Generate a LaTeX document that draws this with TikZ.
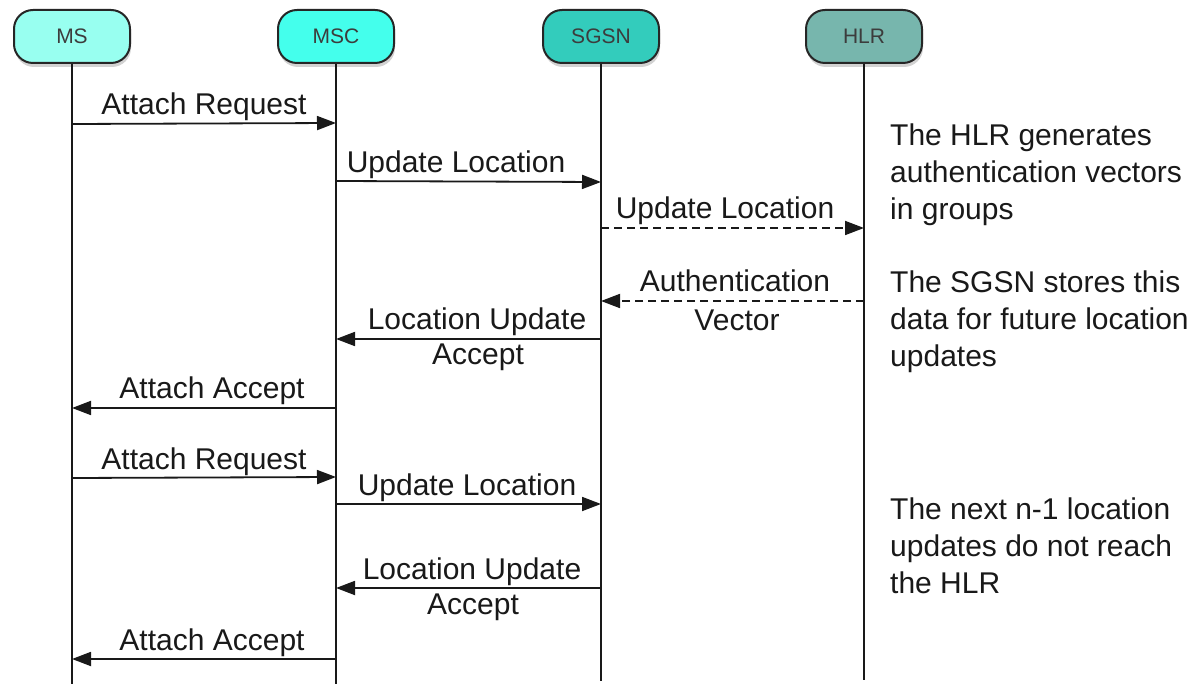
\documentclass[tikz,border=0pt]{standalone}
\usepackage{fontspec}
\setmainfont{Liberation Sans}
\usetikzlibrary{shadows,arrows.meta}
\definecolor{cMS}{RGB}{152,255,240}
\definecolor{cMSC}{RGB}{68,255,236}
\definecolor{cSGSN}{RGB}{51,204,188}
\definecolor{cHLR}{RGB}{119,182,173}
\definecolor{boxtext}{RGB}{60,60,60}
\tikzset{
  entity/.style={draw=black!85, line width=2pt, rounded corners=19pt,
    minimum width=116pt, minimum height=53pt, inner sep=0pt,
    font=\fontsize{21}{25}\selectfont, text=boxtext,
    drop shadow={opacity=0.35, shadow xshift=1pt, shadow yshift=-4pt}},
  life/.style={line width=1.6pt, black!90},
  msg/.style={line width=1.8pt, black!90, -{Triangle[length=19pt,width=14pt]}},
  dmsg/.style={msg, dash pattern=on 8pt off 5pt},
  lbl/.style={anchor=base, inner sep=0pt, font=\fontsize{30}{36}\selectfont, text=black!90},
  note/.style={anchor=base west, inner sep=0pt, align=left, font=\fontsize{30}{37}\selectfont, text=black!90}
}
\begin{document}
\begin{tikzpicture}[x=1pt,y=-1pt]
\useasboundingbox[fill=white] (0,0) rectangle (1197,684);
% entities
\node[entity, fill=cMS]   (ms)   at (72,36.5)  {MS};
\node[entity, fill=cMSC]  (msc)  at (336,36.5) {MSC};
\node[entity, fill=cSGSN] (sgsn) at (601,36.5) {SGSN};
\node[entity, fill=cHLR]  (hlr)  at (864,36.5) {HLR};
% lifelines
\coordinate (msE)   at (72,684);
\coordinate (mscE)  at (336,684);
\coordinate (sgsnE) at (601,681);
\coordinate (hlrE)  at (864,680);
\draw[life] (ms.south) -- (msE);
\draw[life] (msc.south) -- (mscE);
\draw[life] (sgsn.south) -- (sgsnE);
\draw[life] (hlr.south) -- (hlrE);
% messages
\draw[msg]  (ms |- 0,124)  -- (msc |- 0,123);
\node[lbl] (l1) at (204,115) {Attach Request};
\draw[msg]  (msc |- 0,181) -- (sgsn |- 0,182);
\node[lbl] (l2) at (456,173) {Update Location};
\draw[dmsg] (sgsn |- 0,228) -- (hlr |- 0,228);
\node[lbl] (l3) at (725,219) {Update Location};
\draw[dmsg] (hlr |- 0,301) -- (sgsn |- 0,301);
\node[lbl] (l4a) at (735,292) {Authentication};
\node[lbl] (l4b) at (737,331) {Vector};
\draw[msg]  (sgsn |- 0,339) -- (msc |- 0,339);
\node[lbl] (l5a) at (477,330) {Location Update};
\node[lbl] (l5b) at (478,365) {Accept};
\draw[msg]  (msc |- 0,408) -- (ms |- 0,408);
\node[lbl] (l6) at (212,399) {Attach Accept};
\draw[msg]  (ms |- 0,478)  -- (msc |- 0,477);
\node[lbl] (l7) at (204,469) {Attach Request};
\draw[msg]  (msc |- 0,504) -- (sgsn |- 0,504);
\node[lbl] (l8) at (467,495) {Update Location};
\draw[msg]  (sgsn |- 0,588) -- (msc |- 0,588);
\node[lbl] (l9a) at (472,579) {Location Update};
\node[lbl] (l9b) at (473,614) {Accept};
\draw[msg]  (msc |- 0,659) -- (ms |- 0,659);
\node[lbl] (l10) at (212,650) {Attach Accept};
% notes (base anchor = last line)
\node[note] (n1) at (890,220) {The HLR generates\\authentication vectors\\in groups};
\node[note] (n2) at (890,367) {The SGSN stores this\\data for future location\\updates};
\node[note] (n3) at (890,593) {The next n-1 location\\updates do not reach\\the HLR};
\end{tikzpicture}
\end{document}
